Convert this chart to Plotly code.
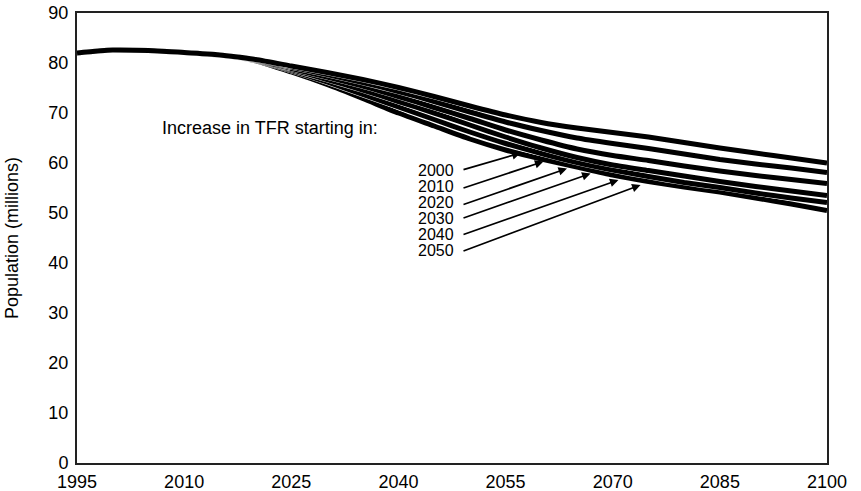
import plotly.graph_objects as go

years = list(range(1995, 2101, 5))

# Population (millions) by year of TFR increase start
pop_2000 = [82.0, 82.6, 82.5, 82.1, 81.6, 80.7, 79.4, 78.1, 76.7, 75.1, 73.3, 71.4,
            69.6, 68.1, 67.0, 66.1, 65.2, 64.1, 63.0, 62.0, 61.0, 60.0]
pop_2010 = [82.0, 82.6, 82.5, 82.1, 81.6, 80.65, 79.2, 77.7, 76.1, 74.3, 72.3, 70.2,
            68.2, 66.5, 65.0, 63.9, 62.9, 61.8, 60.7, 59.8, 59.0, 58.1]
pop_2020 = [82.0, 82.6, 82.5, 82.1, 81.6, 80.6, 78.9, 77.2, 75.4, 73.3, 71.1, 68.9,
            66.6, 64.6, 62.8, 61.5, 60.5, 59.4, 58.4, 57.5, 56.7, 55.9]
pop_2030 = [82.0, 82.6, 82.5, 82.1, 81.6, 80.55, 78.7, 76.7, 74.6, 72.3, 70.0, 67.6,
            65.2, 63.0, 61.1, 59.6, 58.5, 57.4, 56.3, 55.3, 54.4, 53.5]
pop_2040 = [82.0, 82.6, 82.5, 82.1, 81.6, 80.5, 78.5, 76.2, 73.7, 71.2, 68.7, 66.2,
            63.9, 61.9, 60.1, 58.6, 57.3, 56.1, 55.1, 54.0, 53.0, 52.1]
pop_2050 = [82.0, 82.6, 82.5, 82.1, 81.6, 80.45, 78.2, 75.7, 72.9, 70.0, 67.4, 64.8,
            62.6, 60.8, 59.2, 57.6, 56.3, 55.2, 54.2, 53.0, 51.8, 50.5]

series_names = ["2000", "2010", "2020", "2030", "2040", "2050"]
series_values = [pop_2000, pop_2010, pop_2020, pop_2030, pop_2040, pop_2050]

# label positions (text right edge) and arrow tips, in data units
label_x = 2048.1
label_y = [58.6, 55.4, 52.2, 49.0, 45.8, 42.6]
tail_x = 2048.9
tail_y = [58.6, 54.9, 51.6, 48.9, 45.6, 42.3]
tip_x = [2057.1, 2060.3, 2063.6, 2066.9, 2070.8, 2073.9]
tip_y = [62.0, 60.3, 58.9, 57.9, 56.6, 55.6]

x_ticks = [1995, 2010, 2025, 2040, 2055, 2070, 2085, 2100]
y_ticks = list(range(0, 91, 10))

FONT = "Liberation Sans, Arial, sans-serif"

fig = go.Figure()
for name, vals in zip(reversed(series_names), reversed(series_values)):
    fig.add_trace(go.Scatter(x=years, y=vals, mode="lines",
                             line=dict(color="white", width=5.8, shape="spline", smoothing=0.6),
                             hoverinfo="skip", showlegend=False))
    fig.add_trace(go.Scatter(x=years, y=vals, mode="lines", name=name,
                             line=dict(color="black", width=5, shape="spline", smoothing=0.6),
                             showlegend=False))

annotations = [dict(x=2006.6, y=67, xref="x", yref="y", text="Increase in TFR starting in:",
                    showarrow=False, xanchor="left", yanchor="middle",
                    font=dict(size=18, color="black", family=FONT))]
for name, ly in zip(series_names, label_y):
    annotations.append(dict(x=label_x, y=ly, xref="x", yref="y", text=name, showarrow=False,
                            xanchor="right", yanchor="middle",
                            font=dict(size=16, color="black", family=FONT)))
for tx, ty, ax, ay in zip(tip_x, tip_y, [tail_x] * 6, tail_y):
    annotations.append(dict(x=tx, y=ty, xref="x", yref="y", ax=ax, ay=ay, axref="x", ayref="y",
                            text="", showarrow=True, arrowhead=2, arrowsize=1, arrowwidth=1.7,
                            arrowcolor="black", standoff=0, startstandoff=0))

fig.update_layout(
    width=861, height=491,
    margin=dict(l=77, r=34, t=13, b=28, autoexpand=False),
    paper_bgcolor="white", plot_bgcolor="white",
    font=dict(family=FONT, size=18, color="black"),
    annotations=annotations,
    xaxis=dict(range=[1995, 2100], tickvals=x_ticks, showgrid=False, zeroline=False,
               showline=True, mirror=True, linecolor="#222", linewidth=2, ticks="",
               automargin=False, ticklabelstandoff=1, tickfont=dict(size=18, color="black")),
    yaxis=dict(range=[0, 90], tickvals=y_ticks, showgrid=False, zeroline=False,
               showline=True, mirror=True, linecolor="#222", linewidth=2, ticks="",
               automargin=False, ticklabelstandoff=3, tickfont=dict(size=18, color="black"),
               title=dict(text="Population (millions)", font=dict(size=18, color="black"), standoff=25)),
)

# remove the default page margin so the figure sits at the window's top-left corner
fig.write_html("out.html", config={"displayModeBar": False},
               post_script="document.body.style.margin='0';")
